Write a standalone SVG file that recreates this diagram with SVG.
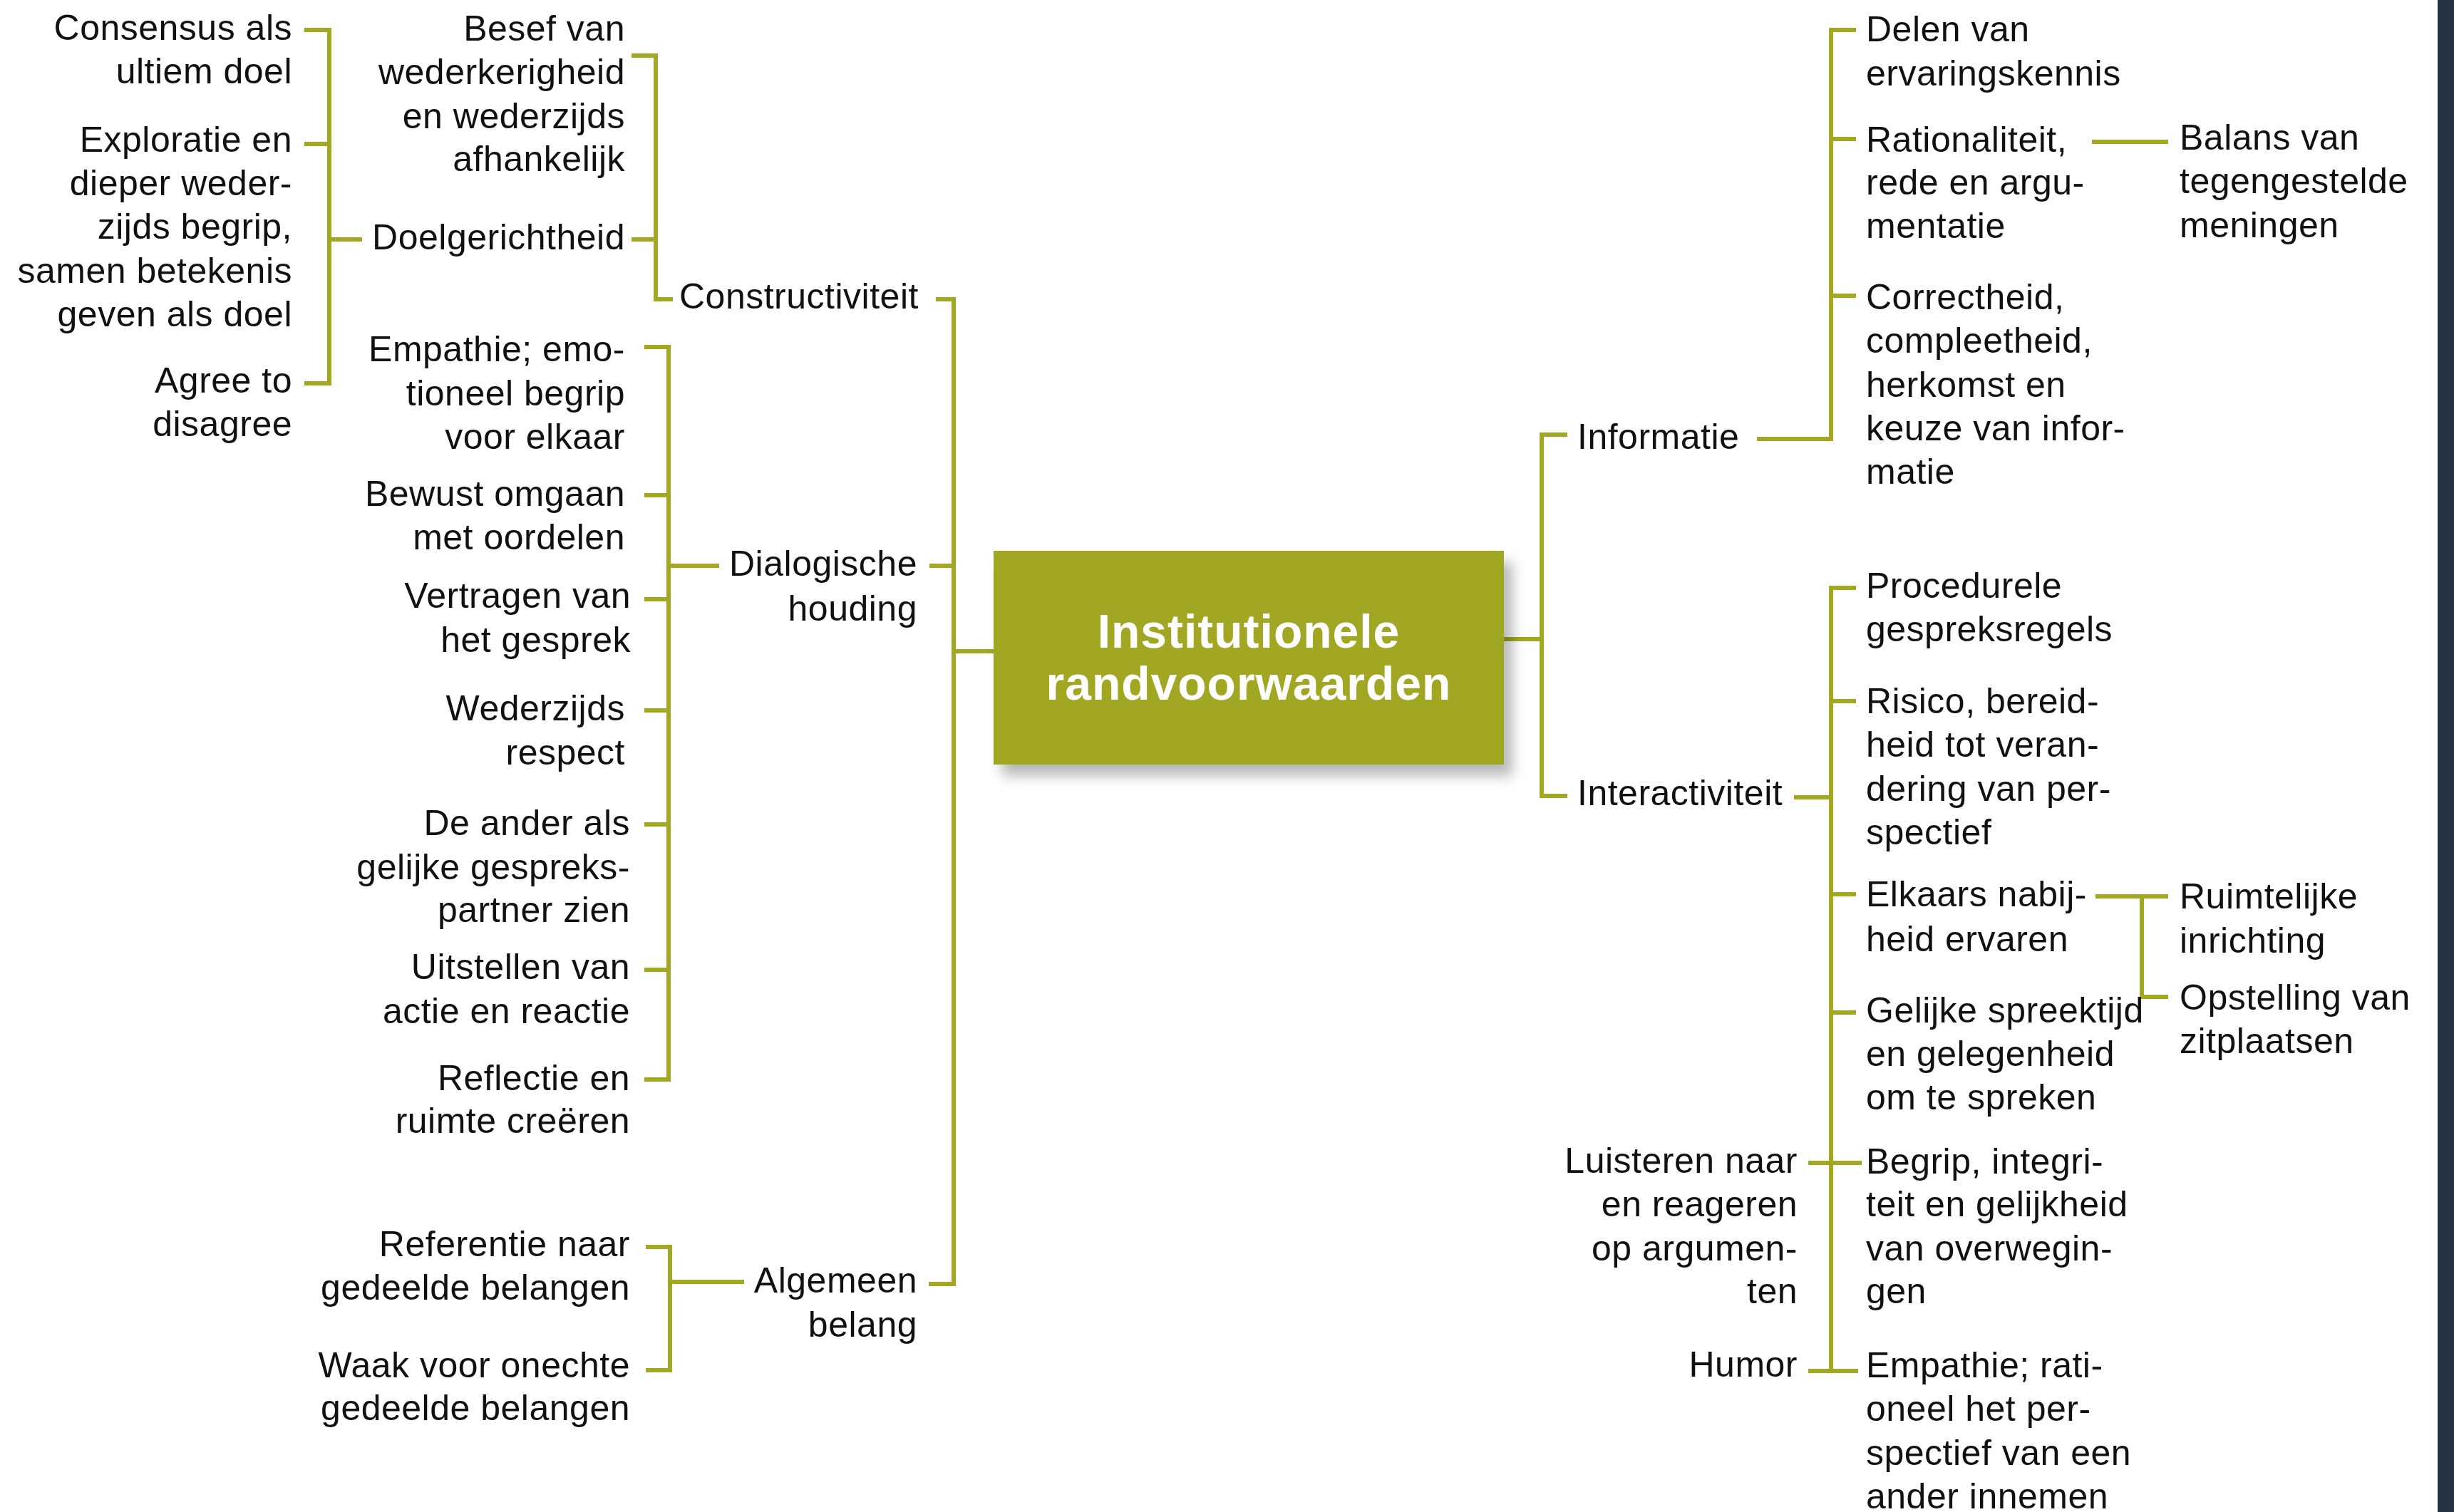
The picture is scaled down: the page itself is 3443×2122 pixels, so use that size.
<svg xmlns="http://www.w3.org/2000/svg" width="3443" height="2122" viewBox="0 0 3443 2122">
<defs>
<filter id="shadow" x="-10%" y="-10%" width="130%" height="140%">
<feDropShadow dx="12" dy="16" stdDeviation="9" flood-color="#000" flood-opacity="0.28"/>
</filter>
</defs>
<style>
text{font-family:"Liberation Sans",Arial,sans-serif;font-size:50px;fill:#111;letter-spacing:0.5px}
.e{text-anchor:end}
.title{font-weight:bold;font-size:66px;fill:#fff;text-anchor:middle;letter-spacing:1px}
.c{fill:none;stroke:#A3A822;stroke-width:6;stroke-linecap:butt;stroke-linejoin:miter}
</style>
<rect width="3443" height="2122" fill="#fff"/>
<rect x="3420" y="0" width="23" height="2122" fill="#243444"/>

<g id="connectors">
<path class="c" d="M427,42 H462 V538 H427 M427,202 H462 M462,336 H508"/>
<path class="c" d="M886,78 H920 V420 H944 M886,336 H920"/>
<path class="c" d="M1313,420 H1338 V1802 H1303 M1304,794 H1338 M1338,914 H1394"/>
<path class="c" d="M904,487 H938 V1515 H904 M904,695 H938 M904,841 H938 M904,997 H938 M904,1157 H938 M904,1361 H938 M938,794 H1009"/>
<path class="c" d="M906,1750 H940 V1923 H906 M940,1799 H1044"/>
<path class="c" d="M2110,897 H2163 M2199,610 H2163 V1117 H2199"/>
<path class="c" d="M2465,616 H2569 V42 H2604 M2569,195 H2604 M2569,415 H2604 M2935,199 H3042"/>
<path class="c" d="M2517,1119 H2569 M2604,825 H2569 V1924 H2607 M2569,984 H2604 M2569,1255 H2604 M2569,1421 H2604 M2537,1632 H2612 M2537,1924 H2569"/>
<path class="c" d="M2940,1258 H3042 M3005,1258 V1399 H3042"/>
</g>

<g id="center">
<rect x="1394" y="773" width="716" height="300" fill="#A1A720" filter="url(#shadow)"/>
<text class="title" x="1752" y="909">Institutionele</text>
<text class="title" x="1752" y="982">randvoorwaarden</text>
</g>

<g id="n_consensus"><text class="e" x="410" y="56">Consensus als<tspan x="410" y="117">ultiem doel</tspan></text></g>
<g id="n_exploratie"><text class="e" x="410" y="213">Exploratie en<tspan x="410" y="274">dieper weder-</tspan><tspan x="410" y="335">zijds begrip,</tspan><tspan x="410" y="397">samen betekenis</tspan><tspan x="410" y="458">geven als doel</tspan></text></g>
<g id="n_agree"><text class="e" x="410" y="551">Agree to<tspan x="410" y="612">disagree</tspan></text></g>

<g id="n_besef"><text class="e" x="877" y="57">Besef van<tspan x="877" y="118">wederkerigheid</tspan><tspan x="877" y="180">en wederzijds</tspan><tspan x="877" y="240">afhankelijk</tspan></text></g>
<g id="n_doel"><text class="e" x="877" y="350">Doelgerichtheid</text></g>
<g id="n_constructiviteit"><text x="953" y="433">Constructiviteit</text></g>

<g id="n_empathie1"><text class="e" x="877" y="507">Empathie; emo-<tspan x="877" y="569">tioneel begrip</tspan><tspan x="877" y="630">voor elkaar</tspan></text></g>
<g id="n_bewust"><text class="e" x="877" y="710">Bewust omgaan<tspan x="877" y="771">met oordelen</tspan></text></g>
<g id="n_vertragen"><text class="e" x="885" y="853">Vertragen van<tspan x="885" y="915">het gesprek</tspan></text></g>
<g id="n_wederzijds"><text class="e" x="877" y="1011">Wederzijds<tspan x="877" y="1073">respect</tspan></text></g>
<g id="n_ander"><text class="e" x="884" y="1172">De ander als<tspan x="884" y="1234">gelijke gespreks-</tspan><tspan x="884" y="1294">partner zien</tspan></text></g>
<g id="n_uitstellen"><text class="e" x="884" y="1374">Uitstellen van<tspan x="884" y="1436">actie en reactie</tspan></text></g>
<g id="n_reflectie"><text class="e" x="884" y="1530">Reflectie en<tspan x="884" y="1590">ruimte creëren</tspan></text></g>
<g id="n_referentie"><text class="e" x="884" y="1763">Referentie naar<tspan x="884" y="1824">gedeelde belangen</tspan></text></g>
<g id="n_waak"><text class="e" x="884" y="1933">Waak voor onechte<tspan x="884" y="1993">gedeelde belangen</tspan></text></g>

<g id="n_dialogische"><text class="e" x="1287" y="808">Dialogische<tspan x="1287" y="871">houding</tspan></text></g>
<g id="n_algemeen"><text class="e" x="1287" y="1814">Algemeen<tspan x="1287" y="1876">belang</tspan></text></g>

<g id="n_informatie"><text x="2213" y="630">Informatie</text></g>
<g id="n_interactiviteit"><text x="2213" y="1130">Interactiviteit</text></g>

<g id="n_delen"><text x="2618" y="58">Delen van<tspan x="2618" y="120">ervaringskennis</tspan></text></g>
<g id="n_rationaliteit"><text x="2618" y="213">Rationaliteit,<tspan x="2618" y="273">rede en argu-</tspan><tspan x="2618" y="334">mentatie</tspan></text></g>
<g id="n_balans"><text x="3058" y="210">Balans van<tspan x="3058" y="271">tegengestelde</tspan><tspan x="3058" y="333">meningen</tspan></text></g>
<g id="n_correctheid"><text x="2618" y="434">Correctheid,<tspan x="2618" y="495">compleetheid,</tspan><tspan x="2618" y="557">herkomst en</tspan><tspan x="2618" y="618">keuze van infor-</tspan><tspan x="2618" y="679">matie</tspan></text></g>

<g id="n_procedurele"><text x="2618" y="839">Procedurele<tspan x="2618" y="900">gespreksregels</tspan></text></g>
<g id="n_risico"><text x="2618" y="1001">Risico, bereid-<tspan x="2618" y="1062">heid tot veran-</tspan><tspan x="2618" y="1124">dering van per-</tspan><tspan x="2618" y="1185">spectief</tspan></text></g>
<g id="n_elkaars"><text x="2618" y="1272">Elkaars nabij-<tspan x="2618" y="1335">heid ervaren</tspan></text></g>
<g id="n_ruimtelijke"><text x="3058" y="1275">Ruimtelijke<tspan x="3058" y="1337">inrichting</tspan></text></g>
<g id="n_opstelling"><text x="3058" y="1417">Opstelling van<tspan x="3058" y="1478">zitplaatsen</tspan></text></g>
<g id="n_gelijke"><text x="2618" y="1435">Gelijke spreektijd<tspan x="2618" y="1496">en gelegenheid</tspan><tspan x="2618" y="1557">om te spreken</tspan></text></g>
<g id="n_begrip"><text x="2618" y="1647">Begrip, integri-<tspan x="2618" y="1707">teit en gelijkheid</tspan><tspan x="2618" y="1769">van overwegin-</tspan><tspan x="2618" y="1829">gen</tspan></text></g>
<g id="n_luisteren"><text class="e" x="2522" y="1646">Luisteren naar<tspan x="2522" y="1707">en reageren</tspan><tspan x="2522" y="1769">op argumen-</tspan><tspan x="2522" y="1829">ten</tspan></text></g>
<g id="n_humor"><text class="e" x="2522" y="1932">Humor</text></g>
<g id="n_empathie2"><text x="2618" y="1933">Empathie; rati-<tspan x="2618" y="1994">oneel het per-</tspan><tspan x="2618" y="2056">spectief van een</tspan><tspan x="2618" y="2117">ander innemen</tspan></text></g>
</svg>
